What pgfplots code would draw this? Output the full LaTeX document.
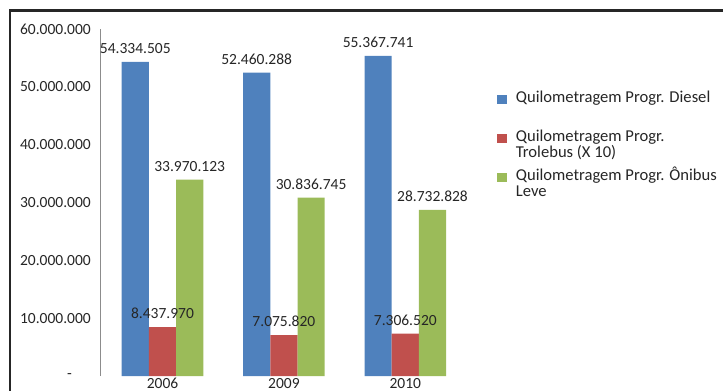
\documentclass[border=0pt]{standalone}
\usepackage{fontspec}
\setmainfont{Carlito}
\usepackage{pgfplots}
\pgfplotsset{compat=1.18}
\usepackage{pgfplotstable}
\definecolor{cblue}{HTML}{4F81BD}
\definecolor{cred}{HTML}{C0504D}
\definecolor{cgreen}{HTML}{9BBB59}
\definecolor{txt}{HTML}{262626}
\pgfplotstableread{
x y lbl
0 54334505 54.334.505
1 52460288 52.460.288
2 55367741 55.367.741
}\diesel
\pgfplotstableread{
x y lbl
0 8437970 8.437.970
1 7075820 7.075.820
2 7306520 7.306.520
}\trolebus
\pgfplotstableread{
x y lbl
0 33970123 33.970.123
1 30836745 30.836.745
2 28732828 28.732.828
}\onibus
\newcommand{\cf}{\fontsize{15.5bp}{16bp}\selectfont}
\newcommand{\lf}{\fontsize{16.6bp}{16bp}\selectfont}
\begin{document}
\begin{tikzpicture}
\path[use as bounding box] (0bp,0bp) rectangle (723bp,391bp);
\draw[line width=2.5bp, color=black!85] (9.8bp,-5bp) -- (9.8bp,380.5bp) -- (730bp,380.5bp);
\begin{axis}[
  at={(100.7bp,15bp)}, anchor=south west,
  scale only axis, width=366.4bp, height=347bp,
  xmin=-0.509, xmax=2.509, ymin=0, ymax=60000000,
  ybar=0pt, bar width=27.2bp,
  axis y line*=left, axis x line*=bottom,
  x axis line style={draw=none},
  y axis line style={draw=black!45, line width=1bp},
  major tick length=0pt,
  xtick={0,1,2}, xticklabels={2006,2009,2010},
  ytick={0,10000000,20000000,30000000,40000000,50000000,60000000},
  yticklabels={{-\hspace*{19bp}},10.000.000,20.000.000,30.000.000,40.000.000,50.000.000,60.000.000},
  scaled y ticks=false,
  xticklabel style={font=\cf, text=txt, anchor=north, inner sep=0pt, yshift=-2bp},
  yticklabel style={font=\cf, text=txt, anchor=east, inner sep=0pt, xshift=-9.7bp},
  point meta=explicit symbolic,
  nodes near coords,
  every node near coord/.append style={font=\cf, text=txt, inner sep=0pt, anchor=south, yshift=8bp},
  legend style={at={(1.0824,0.8193)}, anchor=north west, draw=none, fill=none, inner sep=0pt, outer sep=0pt,
    row sep=8bp, column sep=9.3bp,
    nodes={font=\lf, text=txt, inner sep=0pt, text height=11bp, text depth=20bp}},
  legend cell align=left,
  legend image code/.code={\fill[#1] (0bp,3.4bp) rectangle (9.3bp,12.7bp);},
  clip=false,
]
\addplot[fill=cblue, draw=none] table[x=x, y=y, meta=lbl] {\diesel};
\addlegendentry{Quilometragem Progr. Diesel}
\addplot[fill=cred, draw=none] table[x=x, y=y, meta=lbl] {\trolebus};
\addlegendentry{\vtop{\hbox{Quilometragem Progr.}\hbox{Trolebus (X 10)}}}
\addplot[fill=cgreen, draw=none] table[x=x, y=y, meta=lbl] {\onibus};
\addlegendentry{\vtop{\hbox{Quilometragem Progr. Ônibus}\hbox{Leve}}}
\end{axis}
\end{tikzpicture}
\end{document}
